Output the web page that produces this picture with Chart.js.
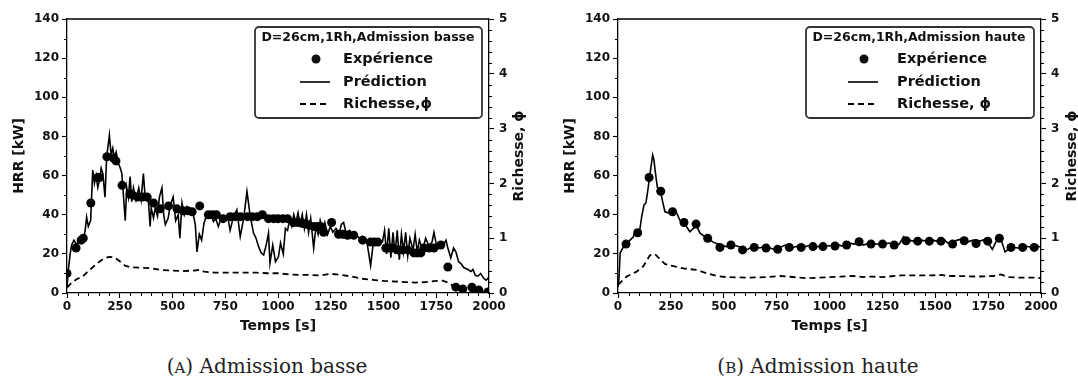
<!DOCTYPE html>
<html><head><meta charset="utf-8">
<script src="https://cdn.jsdelivr.net/npm/chart.js@4"></script>
<style>
html,body{margin:0;padding:0;background:#fff;}
#wrap{position:relative;width:1078px;height:378px;overflow:hidden;background:#fff;}
canvas{position:absolute;top:0;}
.cap{position:absolute;font-family:'DejaVu Serif';font-size:20px;color:#222;white-space:nowrap;transform:translateX(-50%);top:355px;line-height:22px;}
.sc{font-size:15px;}
</style></head><body>
<div id="wrap">
<canvas id="cA" width="540" height="345" style="left:0"></canvas>
<canvas id="cB" width="538" height="345" style="left:540px"></canvas>
<div class="cap" style="left:267px">(<span class="sc">A</span>) Admission basse</div>
<div class="cap" style="left:818px">(<span class="sc">B</span>) Admission haute</div>
</div>
<script>
// ---------- tick labels ----------
const xTicks = [0,250,500,750,1000,1250,1500,1750,2000];
const hrrTicks = [0,20,40,60,80,100,120,140];
const phiTicks = [0,1,2,3,4,5];

// ---------- (A) Admission basse ----------
const expA_t = [0,43,67,77,113,146,154,189,220,232,261,299,312,335,357,380,410,442,481,521,550,572,593,629,670,690,708,740,775,798,822,855,878,902,926,955,979,1000,1023,1045,1074,1096,1118,1140,1169,1187,1202,1216,1254,1287,1308,1330,1359,1401,1439,1456,1473,1511,1528,1544,1568,1591,1615,1644,1660,1677,1691,1715,1739,1772,1805,1843,1876,1919,1952,1995];
const expA_hrr = [10,23,27,28,46,59,59,69.6,69,67.5,55,50.6,50,49,49,49,46,43,44.5,43,42,42,41.5,44.5,40,40,40,38,39,39,39,39,39,39,40,38,38,38,38,38,36,36,35.5,35,34,34,34,31,36,30,30,29.5,29.5,27,26,26,26,23,23,23,22,22,22,20.5,20.5,20.5,23,23,23,24.5,13.3,3,2,3,1.5,0.5];

const predA_t = [0,6,15,22,33,46,54,62,70,78,86,93,101,112,117,122,130,138,146,154,162,170,180,188,201,209,217,225,233,244,252,260,268,276,283,291,299,307,315,327,340,351,362,369,375,386,394,399,410,418,429,438,450,458,466,479,490,503,515,527,535,545,556,568,580,595,608,616,627,638,649,662,678,694,705,717,730,745,760,773,789,805,821,837,853,868,884,896,908,920,932,945,955,962,975,988,1002,1012,1025,1035,1045,1055,1065,1075,1085,1095,1105,1115,1125,1135,1145,1155,1169,1180,1190,1200,1212,1222,1235,1248,1260,1275,1290,1300,1311,1322,1340,1355,1370,1385,1400,1420,1439,1450,1465,1480,1495,1505,1515,1525,1535,1545,1555,1565,1575,1585,1595,1605,1615,1625,1640,1650,1660,1670,1685,1700,1715,1730,1739,1750,1760,1772,1786,1796,1805,1819,1832,1843,1856,1867,1880,1900,1915,1924,1935,1948,1960,1975,1986,2000];
const predA_hrr = [3,11.7,20,24.5,27,24.5,27,26,28,27,32,38.8,34,37,50,62.8,56,60,54,57.8,63.8,61,49,69.7,80.7,70.5,74,69,72,66,64,61,49,37,54,49,59.5,46.7,53.7,47.5,53.7,47.5,61,51,47.5,46.7,34,43.4,38.3,43.4,39.3,49,53.7,40,35,38,45,49,37,40,28,46,40,44,41.5,42,35,21,30,27,35.5,40,41.5,36.5,38,34,38,37,40,32,39,42.5,28.8,38,51.8,39.5,30.6,28,23.7,20.5,19.4,25,30.6,15.3,24.5,16,18.5,25.5,20,33,32,37,34,40,36,41,35,40,33,40,31,38,23,34,30,37,32,36,30,34,31,33,30,35,36,31,32,29,30,28,29,27,14,24,27,25,26,32,20,33,18,31,20,32,17,30,21,31,19,28,22,30,21,27,22,28,24,26,31,25,23,26,25,27,23,18,23,21,16,15,13,12,11,12,9,8.6,10,7.5,6.6,8];

const phiA_t = [0,25,50,75,100,125,150,175,200,225,250,275,300,350,400,450,500,550,600,625,650,700,750,800,850,900,950,1000,1050,1100,1150,1200,1250,1300,1350,1400,1450,1500,1550,1600,1650,1700,1750,1775,1800,1825,1850,1875,1900,1950,2000];
const phiA_val = [0.10,0.2,0.26,0.3,0.4,0.48,0.56,0.63,0.66,0.65,0.58,0.5,0.47,0.46,0.45,0.42,0.41,0.40,0.41,0.42,0.39,0.37,0.37,0.37,0.37,0.37,0.36,0.36,0.34,0.33,0.33,0.32,0.35,0.33,0.3,0.26,0.24,0.22,0.21,0.2,0.19,0.2,0.22,0.23,0.2,0.14,0.09,0.06,0.04,0.02,0.01];

// ---------- (B) Admission haute ----------
const expB_t = [38,93,147,202,258,312,369,424,482,534,589,644,700,755,810,866,922,969,1026,1081,1140,1196,1251,1306,1362,1417,1472,1527,1582,1637,1693,1748,1803,1858,1913,1968];
const expB_hrr = [25,30.8,59,52,41.5,36,35.2,28,23.3,24.5,22,23.3,23,22.3,23.3,23.3,23.7,23.7,24,24.5,26.2,25,25,24.5,26.7,26.5,26.5,26.5,25,26.7,25.3,26.5,28,23.3,23.3,23.3];

const predB_t = [0,5,10,25,57,72,80,95,104,112,123,132,139,148,158,164,170,175,186,199,211,222,238,254,265,277,293,317,340,356,372,388,419,451,482,514,545,577,608,640,670,700,730,760,790,820,850,880,910,940,970,1000,1030,1060,1090,1120,1140,1160,1190,1220,1250,1280,1310,1330,1350,1370,1400,1430,1460,1490,1520,1540,1560,1590,1620,1650,1680,1710,1740,1770,1800,1815,1830,1860,1890,1920,1950,1980,2000];
const predB_hrr = [3,8,20.5,23.5,27,28.6,31,30,33,39,45,46,51,58,66,70.5,68,63,54,53,46.7,41.5,41,42.4,41.5,41,37,35,31.3,33,34,30.6,28,26,24.5,23.7,24.5,23.5,22,24,23,24,22.5,23,24.5,23,24,23.5,24.5,23.5,24.5,24,25,24,25.5,25,26.5,24.5,25.5,25,24.5,25.5,24.5,25,28.8,27,26.5,27,26.5,27,26,27.5,25.5,26.5,27.5,26,27,26.5,27.5,22.3,29,26,21,23.5,23,24,23.5,24,23.5];

const phiB_t = [0,41,88,120,151,175,195,222,262,309,372,419,467,514,608,700,765,800,892,950,1000,1050,1113,1160,1200,1250,1337,1400,1480,1530,1560,1605,1700,1776,1810,1845,1900,1966,2000];
const phiB_val = [0.15,0.3,0.39,0.49,0.69,0.71,0.63,0.53,0.49,0.45,0.42,0.36,0.31,0.29,0.28,0.29,0.31,0.3,0.27,0.28,0.29,0.3,0.31,0.29,0.3,0.29,0.32,0.32,0.32,0.33,0.31,0.31,0.3,0.31,0.34,0.29,0.28,0.28,0.27];

const seriesLabels = ['Expérience','Prédiction'];
const phiLabels = {A:'Richesse,ϕ', B:'Richesse, ϕ'};
const legendTitles = {A:'D=26cm,1Rh,Admission basse', B:'D=26cm,1Rh,Admission haute'};
const rightTitle = 'Richesse, ϕ';

// ---------- helpers ----------
const pts = (t, v) => t.map((x, i) => ({x, y: v[i]}));
const FONT = 'DejaVu Sans';
Chart.defaults.font.family = FONT;
Chart.defaults.color = '#111';

const extras = {
  id: 'extras',
  afterDraw(chart, args, o) {
    const {ctx, chartArea: a, scales} = chart;
    const ln = (x1, y1, x2, y2) => { ctx.beginPath(); ctx.moveTo(x1, y1); ctx.lineTo(x2, y2); ctx.stroke(); };
    ctx.save();
    ctx.strokeStyle = '#000';
    ctx.lineWidth = 1.3;
    ln(a.left, a.top, a.right, a.top);
    // minor ticks
    ctx.lineWidth = 1;
    for (let v = 50; v < 2000; v += 50) { if (v % 250) { const p = Math.round(scales.x.getPixelForValue(v)) + 0.5; ln(p, a.bottom, p, a.bottom + 3); } }
    for (let v = 10; v < 140; v += 20) { const p = Math.round(scales.y.getPixelForValue(v)) + 0.5; ln(a.left - 3, p, a.left, p); }
    for (let k = 1; k < 25; k++) { if (k % 5) { const p = Math.round(scales.y1.getPixelForValue(k / 5)) + 0.5; ln(a.right, p, a.right + 3, p); } }
    // legend
    const L = o.legend;
    ctx.fillStyle = 'rgba(255,255,255,0.85)';
    ctx.strokeStyle = '#333';
    ctx.lineWidth = 1.8;
    ctx.beginPath();
    ctx.roundRect(L.x0, L.y0, L.x1 - L.x0, L.y1 - L.y0, 4);
    ctx.fill(); ctx.stroke();
    ctx.fillStyle = '#111';
    ctx.textBaseline = 'middle';
    ctx.textAlign = 'center';
    ctx.font = 'bold 12.5px "' + FONT + '"';
    ctx.fillText(L.title, L.tx, L.rows[0]);
    ctx.textAlign = 'left';
    ctx.font = 'bold 14.5px "' + FONT + '"';
    const ds = chart.data.datasets;
    // experience marker
    ctx.beginPath(); ctx.arc(L.mx, L.rows[1], 4.5, 0, Math.PI * 2); ctx.fill();
    ctx.fillText(ds[0].label, L.textX, L.rows[1]);
    ctx.strokeStyle = '#000';
    ctx.lineWidth = 1.6;
    ln(L.lx0, L.rows[2], L.lx1, L.rows[2]);
    ctx.fillText(ds[1].label, L.textX, L.rows[2]);
    ctx.setLineDash([6, 4]);
    ctx.lineWidth = 1.8;
    ln(L.lx0, L.rows[3], L.lx1, L.rows[3]);
    ctx.setLineDash([]);
    ctx.fillText(ds[2].label, L.textX, L.rows[3]);
    // right axis title (reads bottom to top)
    ctx.translate(o.rx, (a.top + a.bottom) / 2);
    ctx.rotate(-Math.PI / 2);
    ctx.textAlign = 'center';
    ctx.font = 'bold 14px "' + FONT + '"';
    ctx.fillText(o.rtitle, 0, 0);
    ctx.restore();
  }
};

function makeChart(id, key, exp, pred, phi, geom) {
  const tickFont = {family: FONT, weight: 'bold', size: 12};
  const grid = {drawOnChartArea: false, drawTicks: true, tickLength: 5, color: '#000', tickColor: '#000', tickWidth: 1.1};
  const border = {display: true, color: '#000', width: 1.3};
  return new Chart(document.getElementById(id), {
    type: 'line',
    data: {
      datasets: [
        {label: seriesLabels[0], data: exp, showLine: false, pointRadius: 4.5, pointBackgroundColor: '#000', pointBorderColor: '#000', pointBorderWidth: 0, yAxisID: 'y', order: 0},
        {label: seriesLabels[1], data: pred, borderColor: '#000', borderWidth: 1.6, pointRadius: 0, tension: 0, yAxisID: 'y', order: 1},
        {label: phiLabels[key], data: phi, borderColor: '#000', borderWidth: 1.8, borderDash: [6, 4], pointRadius: 0, tension: 0, yAxisID: 'y1', order: 2}
      ]
    },
    options: {
      responsive: false, animation: false, devicePixelRatio: 1,
      layout: {padding: {top: 19, left: 0, right: 0, bottom: 0}},
      plugins: {legend: {display: false}, tooltip: {enabled: false},
        extras: {legend: geom.legend, rx: geom.rx, rtitle: rightTitle}},
      scales: {
        x: {type: 'linear', min: 0, max: 2000, position: 'bottom',
          afterBuildTicks: s => { s.ticks = xTicks.map(v => ({value: v})); },
          afterFit: s => { s.height = geom.xh; },
          ticks: {font: tickFont, color: '#111', padding: 2, maxRotation: 0, callback: v => String(v)},
          grid, border,
          title: {display: true, text: 'Temps [s]', font: {family: FONT, weight: 'bold', size: 14}, color: '#111', padding: {top: 0, bottom: geom.xtp}}},
        y: {type: 'linear', min: 0, max: 140, position: 'left',
          afterBuildTicks: s => { s.ticks = hrrTicks.map(v => ({value: v})); },
          afterFit: s => { s.width = geom.yw; },
          ticks: {font: tickFont, color: '#111', padding: 3, callback: v => String(v)},
          grid, border,
          title: {display: true, text: 'HRR [kW]', font: {family: FONT, weight: 'bold', size: 14}, color: '#111', padding: {top: geom.ytp, bottom: 0}}},
        y1: {type: 'linear', min: 0, max: 5, position: 'right',
          afterBuildTicks: s => { s.ticks = phiTicks.map(v => ({value: v})); },
          afterFit: s => { s.width = geom.y1w; },
          ticks: {font: tickFont, color: '#111', padding: 5, callback: v => String(v)},
          grid, border}
      }
    },
    plugins: [extras]
  });
}

makeChart('cA', 'A', pts(expA_t, expA_hrr), pts(predA_t, predA_hrr), pts(phiA_t, phiA_val), {
  xh: 52, xtp: 10.6, yw: 67, ytp: 10.6, y1w: 540 - 489, rx: 519,
  legend: {x0: 255, y0: 27, x1: 482, y1: 118, title: legendTitles.A, tx: 368, rows: [38, 59, 82, 104], mx: 316, lx0: 300, lx1: 330, textX: 343}
});
makeChart('cB', 'B', pts(expB_t, expB_hrr), pts(predB_t, predB_hrr), pts(phiB_t, phiB_val), {
  xh: 52, xtp: 10.6, yw: 78, ytp: 21.6, y1w: 538 - 501, rx: 532,
  legend: {x0: 266, y0: 27, x1: 494, y1: 118, title: legendTitles.B, tx: 379, rows: [38, 59, 82, 104], mx: 324, lx0: 308, lx1: 338, textX: 357}
});
</script>
</body></html>
